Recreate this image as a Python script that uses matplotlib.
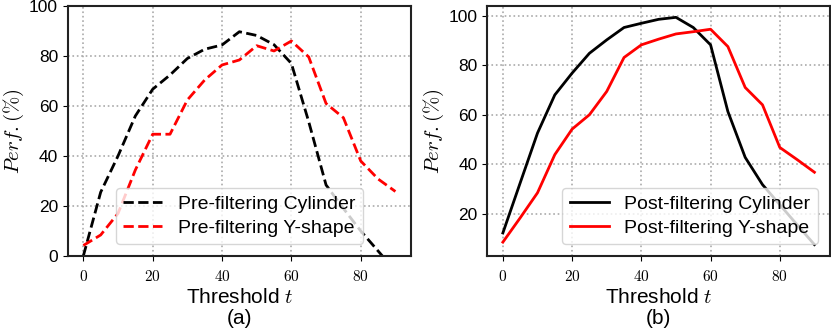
import matplotlib
matplotlib.use("Agg")
import matplotlib.pyplot as plt
from matplotlib.ticker import FuncFormatter

plt.rcParams['font.family'] = ['Liberation Sans', 'DejaVu Sans']
plt.rcParams['mathtext.fontset'] = 'cm'

thresholds = [0, 5, 10, 15, 20, 25, 30, 35, 40, 45, 50, 55, 60, 65, 70, 75, 80, 85, 90]

pre_cylinder = [0, 25.5, 40, 56, 66.7, 72.4, 79, 82.7, 84.4, 89.7, 88.2, 84.5, 77, 53.7, 28.4, 19, 10, 2, -6]
pre_yshape = [4.2, 8.4, 17, 34.4, 48.7, 48.7, 62.4, 70.4, 76.4, 78.4, 84.1, 82, 86, 79.6, 61, 55.3, 38, 30.8, 25.8]

post_cylinder = [12.3, 32.5, 52.6, 68, 76.8, 84.8, 90.2, 95.2, 96.9, 98.5, 99.3, 95.2, 88.2, 61.3, 42.8, 31.8, 23.7, 15.6, 7.6]
post_yshape = [8.6, 18.4, 28.5, 43.9, 54.2, 60, 69.4, 83.1, 88.2, 90.5, 92.6, 93.5, 94.5, 87.5, 71, 64, 46.8, 41.9, 36.8]

labels_pre = ["Pre-filtering Cylinder", "Pre-filtering Y-shape"]
labels_post = ["Post-filtering Cylinder", "Post-filtering Y-shape"]
captions = ["(a)", "(b)"]

fig = plt.figure(figsize=(8.31, 3.32), dpi=100)
ax1 = fig.add_axes([0.0815, 0.229, 0.4131, 0.753])
ax2 = fig.add_axes([0.5864, 0.229, 0.4124, 0.753])

ax1.plot(thresholds, pre_cylinder, 'k--', lw=2, label=labels_pre[0])
ax1.plot(thresholds, pre_yshape, '--', color='red', lw=2, label=labels_pre[1])
ax1.set_ylim(0, 100)

ax2.plot(thresholds, post_cylinder, 'k-', lw=2, label=labels_post[0])
ax2.plot(thresholds, post_yshape, '-', color='red', lw=2, label=labels_post[1])

fmt = FuncFormatter(lambda v, p: r'$%d$' % v)
for ax, cap, loc in [(ax1, captions[0], 'lower center'), (ax2, captions[1], 'lower right')]:
    ax.set_xticks([0, 20, 40, 60, 80])
    ax.xaxis.set_major_formatter(fmt)
    ax.tick_params(axis='x', labelsize=11, pad=6)
    ax.tick_params(axis='y', labelsize=12.5)
    ax.grid(True, linestyle=':', color='#aaaaaa', lw=1.2)
    for s in ax.spines.values():
        s.set_linewidth(1.5)
        s.set_color('#222222')
    ax.set_ylabel(r'$Perf.(\%)$', fontsize=15, labelpad=2)
    ax.set_xlabel('Threshold $t$\n' + cap, fontsize=15, linespacing=1.12, labelpad=3)
    ax.legend(loc=loc, fontsize=14, framealpha=0.8, borderpad=0.4,
              handlelength=2.0, labelspacing=0.3, borderaxespad=0.6)

fig.savefig('out.png', dpi=100)
